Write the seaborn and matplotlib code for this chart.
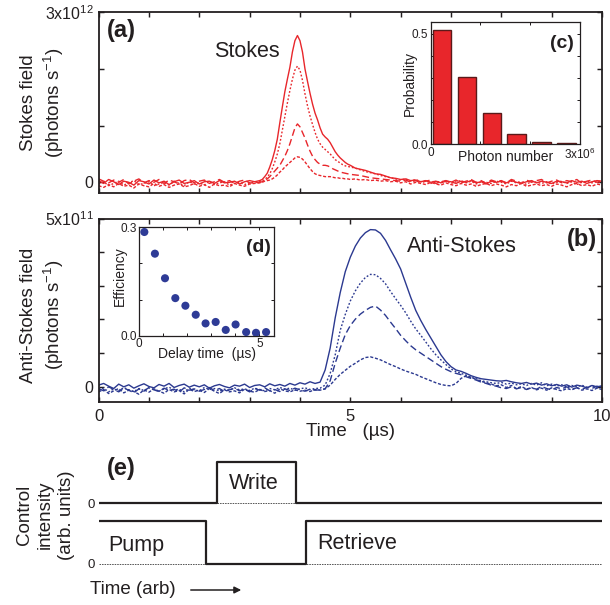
import numpy as np
import pandas as pd
import matplotlib
matplotlib.use("Agg")
import matplotlib.pyplot as plt
import seaborn as sns

# ------------------------------------------------------------------ data
# (a) Stokes field traces, units of 1e12 photons/s
t_stokes = np.round(np.concatenate([np.linspace(0.0, 3.1, 32),
                                    np.linspace(3.2, 4.95, 36),
                                    np.linspace(5.0, 10.0, 51)]), 2)
stokes_1 = ([0.03, -0.02, 0.05, 0.01, -0.04, 0.02, 0.00, -0.05, 0.03, 0.01, -0.03, 0.04, -0.01, 0.02, -0.04, 0.01,
             0.04, -0.02, 0.00, 0.03, -0.03, 0.01, 0.02, -0.02, 0.03, -0.01, 0.00, 0.02, -0.03, 0.01, 0.03, 0.01]
            + [0.03, 0.05, 0.10, 0.16, 0.27, 0.40, 0.56, 0.76, 1.05, 1.33, 1.60, 1.82, 2.03, 2.30, 2.50, 2.59,
               2.50, 2.30, 2.00, 1.78, 1.57, 1.38, 1.22, 1.10, 0.96, 0.85, 0.80, 0.76, 0.70, 0.62, 0.54, 0.48,
               0.43, 0.39, 0.35, 0.32]
            + [0.30, 0.25, 0.23, 0.21, 0.18, 0.15, 0.14, 0.11, 0.08, 0.07, 0.05, 0.06, 0.03, 0.04, 0.01, 0.03,
               0.00, 0.02, -0.01, 0.02, 0.01, -0.02, 0.02, 0.00, 0.03, -0.01, 0.01, -0.03, 0.02, 0.00, 0.02,
               -0.01, 0.03, 0.00, -0.02, 0.01, 0.03, -0.01, 0.02, 0.00, -0.02, 0.02, 0.01, -0.01, 0.03, 0.00,
               0.02, -0.02, 0.01, 0.03, 0.02])
stokes_2 = ([-0.03, 0.01, -0.06, -0.02, 0.02, -0.05, -0.01, 0.03, -0.04, -0.02, 0.01, -0.06, -0.03, 0.00, -0.05,
             0.02, -0.02, -0.06, 0.01, -0.03, -0.01, -0.05, 0.02, -0.04, -0.01, 0.01, -0.05, -0.02, 0.00, -0.04,
             -0.01, 0.00]
            + [0.01, 0.02, 0.05, 0.09, 0.15, 0.24, 0.36, 0.50, 0.68, 0.92, 1.16, 1.40, 1.62, 1.82, 1.98, 2.05,
               1.98, 1.80, 1.56, 1.35, 1.17, 1.02, 0.88, 0.76, 0.68, 0.62, 0.58, 0.54, 0.50, 0.45, 0.40, 0.37,
               0.34, 0.31, 0.29, 0.28]
            + [0.27, 0.25, 0.22, 0.19, 0.17, 0.15, 0.12, 0.10, 0.08, 0.06, 0.04, 0.06, 0.02, 0.05, 0.01, 0.03,
               -0.02, 0.02, 0.00, 0.03, -0.02, 0.01, 0.03, -0.01, 0.02, -0.03, 0.01, 0.00, -0.02, 0.02, 0.00,
               -0.03, 0.02, -0.01, 0.01, -0.04, 0.02, 0.00, -0.02, 0.01, -0.03, 0.00, 0.02, -0.02, 0.01, -0.04,
               0.00, 0.02, -0.01, 0.01, 0.00])
stokes_3 = ([0.06, 0.02, -0.01, 0.04, 0.00, 0.05, -0.03, 0.02, 0.06, -0.01, 0.03, 0.00, 0.05, -0.02, 0.04, 0.01,
             -0.03, 0.03, 0.05, -0.01, 0.02, 0.04, -0.02, 0.01, 0.05, 0.00, 0.03, -0.02, 0.02, 0.04, -0.01, -0.01]
            + [0.00, 0.01, 0.03, 0.06, 0.10, 0.15, 0.20, 0.25, 0.30, 0.38, 0.46, 0.56, 0.68, 0.82, 0.96, 1.03,
               0.98, 0.88, 0.78, 0.66, 0.55, 0.46, 0.40, 0.35, 0.32, 0.30, 0.30, 0.29, 0.27, 0.24, 0.22, 0.20,
               0.18, 0.17, 0.16, 0.15]
            + [0.14, 0.13, 0.12, 0.10, 0.08, 0.07, 0.06, 0.05, 0.04, 0.03, 0.02, 0.04, 0.00, 0.03, -0.01, 0.02,
               0.04, -0.02, 0.01, 0.03, 0.00, 0.04, -0.01, 0.02, 0.05, 0.00, 0.03, -0.02, 0.04, 0.01, 0.03,
               -0.01, 0.05, 0.02, -0.02, 0.04, 0.00, 0.03, 0.05, -0.01, 0.02, 0.04, -0.01, 0.03, 0.01, 0.05,
               -0.02, 0.02, 0.04, 0.00, 0.03])
stokes_4 = ([-0.06, -0.09, -0.04, -0.08, -0.02, -0.07, -0.05, -0.10, -0.03, -0.06, -0.08, -0.02, -0.07, -0.04,
             -0.09, -0.05, -0.03, -0.08, -0.06, -0.02, -0.07, -0.04, -0.09, -0.03, -0.06, -0.05, -0.08, -0.02,
             -0.05, -0.07, -0.03, -0.02]
            + [-0.01, 0.00, 0.02, 0.03, 0.04, 0.06, 0.09, 0.13, 0.18, 0.22, 0.27, 0.31, 0.35, 0.39, 0.43, 0.45,
               0.44, 0.41, 0.36, 0.30, 0.24, 0.19, 0.15, 0.13, 0.12, 0.11, 0.10, 0.10, 0.10, 0.09, 0.08, 0.08,
               0.07, 0.07, 0.06, 0.06]
            + [0.05, 0.06, 0.04, 0.05, 0.03, 0.04, 0.02, 0.03, 0.01, 0.02, -0.01, 0.01, -0.03, 0.00, -0.02, -0.04,
               0.00, -0.03, -0.05, -0.01, -0.04, -0.06, -0.02, -0.05, -0.03, -0.07, -0.04, -0.02, -0.06, -0.03,
               -0.05, -0.08, -0.04, -0.06, -0.02, -0.07, -0.05, -0.03, -0.06, -0.04, -0.07, -0.03, -0.05, -0.08,
               -0.04, -0.02, -0.06, -0.04, -0.07, -0.03, -0.05])

# (b) anti-Stokes field traces, units of 1e11 photons/s
t_anti = np.round(np.linspace(0.0, 10.0, 101), 2)
anti_1 = [0.05, 0.10, 0.02, -0.05, 0.08, 0.00, 0.06, -0.04, 0.03, 0.09, 0.01, -0.03, 0.07, 0.02, 0.10, -0.02,
          0.04, 0.08, -0.01, 0.05, 0.00, 0.06, -0.04, 0.03, 0.07, 0.01, -0.03, 0.05, 0.02, 0.08, -0.02, 0.04,
          0.06, 0.00, 0.09, 0.03, 0.07, 0.02, 0.10, 0.05, 0.12, 0.08, 0.15, 0.10,
          0.14, 0.50, 1.15, 2.05, 2.80, 3.42, 3.85, 4.18, 4.42, 4.58,
          4.67, 4.66, 4.56, 4.35, 4.07, 3.80, 3.50, 3.08, 2.66, 2.27,
          1.97, 1.70, 1.45, 1.20, 0.95, 0.75, 0.60, 0.50, 0.46, 0.40,
          0.33, 0.28, 0.24, 0.22, 0.20, 0.18, 0.17, 0.19, 0.15, 0.12,
          0.10, 0.13, 0.08, 0.11, 0.05, 0.09, 0.03, 0.07, 0.02, 0.06,
          -0.01, 0.05, 0.02, -0.03, 0.04, 0.00, 0.03]
anti_2 = [-0.10, -0.04, -0.15, -0.06, -0.12, -0.02, -0.09, -0.14, -0.05, -0.11, -0.03, -0.08, -0.13, -0.06,
          -0.01, -0.10, -0.07, -0.15, -0.04, -0.09, -0.12, -0.02, -0.08, -0.05, -0.13, -0.07, -0.10, -0.03,
          -0.09, -0.06, -0.11, -0.04, -0.08, -0.12, -0.05, -0.09, -0.02, -0.07, -0.04, -0.10, -0.06, -0.03,
          -0.08, -0.05,
          -0.04, 0.05, 0.40, 0.95, 1.68, 2.15, 2.55, 2.85, 3.08, 3.25,
          3.34, 3.33, 3.22, 3.06, 2.83, 2.62, 2.42, 2.20, 1.95, 1.72,
          1.53, 1.33, 1.13, 0.95, 0.80, 0.66, 0.53, 0.45, 0.40, 0.35,
          0.28, 0.24, 0.18, 0.15, 0.12, 0.10, 0.13, 0.08, 0.11, 0.06,
          0.09, 0.04, 0.10, 0.05, 0.12, 0.03, 0.08, 0.02, 0.06, -0.01,
          0.04, 0.00, 0.05, -0.02, 0.03, -0.03, 0.02]
anti_3 = [-0.05, -0.12, 0.00, -0.08, -0.15, -0.04, -0.10, -0.18, -0.06, -0.13, -0.02, -0.09, -0.14, -0.04,
          -0.11, -0.07, -0.16, -0.03, -0.10, -0.06, -0.13, -0.08, -0.02, -0.11, -0.05, -0.14, -0.09, -0.04,
          -0.12, -0.07, -0.15, -0.05, -0.10, -0.03, -0.12, -0.08, -0.14, -0.06, -0.11, -0.04, -0.09, -0.13,
          -0.07, -0.10,
          -0.09, -0.06, 0.18, 0.70, 1.15, 1.55, 1.82, 2.01, 2.16, 2.27,
          2.36, 2.40, 2.28, 2.12, 1.92, 1.73, 1.53, 1.37, 1.22, 1.10,
          1.00, 0.90, 0.80, 0.70, 0.60, 0.52, 0.45, 0.40, 0.36, 0.30,
          0.25, 0.20, 0.14, 0.10, 0.05, 0.02, -0.03, -0.05, 0.00, -0.06,
          -0.02, -0.08, -0.03, -0.07, 0.01, -0.05, -0.09, -0.02, -0.06, 0.00,
          -0.07, -0.03, -0.08, -0.01, -0.05, 0.02, -0.04]
anti_4 = [-0.15, -0.08, -0.20, -0.12, -0.05, -0.18, -0.10, -0.14, -0.22, -0.09, -0.16, -0.06, -0.13, -0.19,
          -0.08, -0.15, -0.11, -0.21, -0.07, -0.14, -0.10, -0.17, -0.05, -0.13, -0.20, -0.09, -0.15, -0.12,
          -0.18, -0.07, -0.13, -0.16, -0.08, -0.14, -0.11, -0.19, -0.06, -0.12, -0.15, -0.09, -0.13, -0.10,
          -0.14, -0.08,
          -0.10, -0.06, 0.05, 0.22, 0.37, 0.49, 0.61, 0.70, 0.80, 0.87,
          0.89, 0.85, 0.80, 0.73, 0.66, 0.60, 0.53, 0.47, 0.42, 0.37,
          0.30, 0.24, 0.18, 0.12, 0.07, 0.04, 0.03, 0.10, 0.25, 0.33,
          0.28, 0.22, 0.16, 0.12, 0.08, 0.03, 0.06, -0.02, 0.04, -0.05,
          0.01, -0.07, -0.02, -0.09, -0.04, -0.10, -0.03, -0.08, -0.12, -0.05,
          -0.09, -0.02, -0.10, -0.06, -0.11, -0.04, -0.08]

# (c) photon-number histogram
photon_bins = [0.23e6, 0.73e6, 1.23e6, 1.73e6, 2.23e6, 2.73e6]
probability = [0.518, 0.304, 0.140, 0.047, 0.010, 0.006]

# (d) retrieval efficiency vs delay
delay_us = [0.21, 0.65, 1.07, 1.50, 1.92, 2.35, 2.76, 3.18, 3.60, 4.01, 4.45, 4.86, 5.28]
efficiency = [0.287, 0.227, 0.159, 0.104, 0.083, 0.058, 0.034, 0.038, 0.016, 0.031, 0.010, 0.008, 0.010]

# (e) control pulse sequence (arbitrary time / intensity)
write_t = [0.0, 2.35, 2.35, 3.93, 3.93, 10.0]
write_on = [0, 0, 1, 1, 0, 0]
pump_t = [0.0, 2.13, 2.13, 4.12, 4.12, 10.0]
pump_on = [1, 1, 0, 0, 1, 1]

# ------------------------------------------------------------------ style
sns.set_theme(style="ticks")
plt.rcParams["font.family"] = ["Liberation Sans", "DejaVu Sans"]
plt.rcParams["mathtext.fontset"] = "custom"
plt.rcParams["mathtext.rm"] = "Liberation Sans"
plt.rcParams["mathtext.it"] = "Liberation Sans:italic"
plt.rcParams["mathtext.bf"] = "Liberation Sans:bold"
plt.rcParams["mathtext.default"] = "regular"
TXT = "#231f20"
plt.rcParams["text.color"] = TXT
plt.rcParams["axes.labelcolor"] = TXT
plt.rcParams["xtick.color"] = TXT
plt.rcParams["ytick.color"] = TXT

RED = "#e8262b"
BLUE = "#2b3990"
styles = ["-", (0, (1.3, 1.4)), (0, (5.0, 2.5)), (0, (2.2, 1.3))]

W, H = 610, 605
fig = plt.figure(figsize=(W / 100, H / 100), dpi=100)


def frac(l, t, r, b):
    return [l / W, 1 - b / H, (r - l) / W, (b - t) / H]


ax_a = fig.add_axes(frac(98.6, 12.3, 602, 193.3))
ax_b = fig.add_axes(frac(98.6, 218.5, 602, 401.8))
ax_c = fig.add_axes(frac(430.5, 22.3, 580, 144.3))
ax_d = fig.add_axes(frac(139.3, 227.3, 274, 335.7))
ax_e = fig.add_axes(frac(98.6, 455, 602, 570))


def frame(ax, lw=1.3, tlen=3.5):
    for s in ax.spines.values():
        s.set_visible(True)
        s.set_linewidth(lw)
        s.set_color(TXT)
    ax.tick_params(direction="in", top=True, right=True, length=tlen, width=lw * 0.8)
    ax.grid(False)


# (a) Stokes
for vals, ls in zip([stokes_1, stokes_2, stokes_3, stokes_4], styles):
    sns.lineplot(x=t_stokes, y=np.array(vals) * 1e12, ax=ax_a, color=RED, lw=1.0,
                 linestyle=ls, errorbar=None)
ax_a.set_xlim(0, 10)
ax_a.set_ylim(-0.194e12, 3.0e12)
ax_a.set_xticks(np.arange(0, 11, 1))
ax_a.set_xticklabels([])
ax_a.set_yticks([0, 1e12, 2e12, 3e12])
ax_a.set_yticklabels(["0", "", "", r"3x10$^{12}$"], fontsize=11.5)
ax_a.set_xlabel("")
ax_a.set_ylabel("Stokes field\n" + r"(photons s$^{-1}$)", fontsize=13.5, linespacing=1.3)
ax_a.yaxis.set_label_coords(-0.064, 0.5)
frame(ax_a)
ax_a.text(0.0445, 0.90, "(a)", transform=ax_a.transAxes, fontsize=17, fontweight="bold",
          ha="center", va="center")
ax_a.text(0.294, 0.785, "Stokes", transform=ax_a.transAxes, fontsize=15.5, ha="center", va="center")

# (b) anti-Stokes
for vals, ls in zip([anti_1, anti_2, anti_3, anti_4], styles):
    sns.lineplot(x=t_anti, y=np.array(vals) * 1e11, ax=ax_b, color=BLUE, lw=1.0,
                 linestyle=ls, errorbar=None)
ax_b.set_xlim(0, 10)
ax_b.set_ylim(-0.445e11, 5.0e11)
ax_b.set_xticks(np.arange(0, 11, 1))
ax_b.set_xticklabels(["0", "", "", "", "", "5", "", "", "", "", "10"], fontsize=12)
ax_b.set_yticks(np.arange(0, 6, 1) * 1e11)
ax_b.set_yticklabels(["0", "", "", "", "", r"5x10$^{11}$"], fontsize=11.5)
ax_b.set_xlabel("Time   (µs)", fontsize=13.5)
ax_b.xaxis.set_label_coords(0.5, -0.115)
ax_b.set_ylabel("Anti-Stokes field\n" + r"(photons s$^{-1}$)", fontsize=13.5, linespacing=1.3)
ax_b.yaxis.set_label_coords(-0.064, 0.474)
frame(ax_b)
ax_b.tick_params(axis="x", pad=5)
ax_b.text(0.96, 0.888, "(b)", transform=ax_b.transAxes, fontsize=17, fontweight="bold",
          ha="center", va="center")
ax_b.text(0.722, 0.845, "Anti-Stokes", transform=ax_b.transAxes, fontsize=15.5, ha="center", va="center")

# (c) histogram inset
ax_c.set_facecolor("white")
sns.barplot(x=photon_bins, y=probability, native_scale=True, ax=ax_c, color=RED, saturation=1,
            edgecolor="#5a1a1a", linewidth=1.0, width=0.74, errorbar=None)
ax_c.set_xlim(0, 3.0e6)
ax_c.set_ylim(0, 0.553)
ax_c.set_xticks([0, 1e6, 2e6, 3e6])
ax_c.set_xticklabels(["0", "", "", r"3x10$^{6}$"], fontsize=8.5)
ax_c.set_yticks(np.arange(0, 0.51, 0.1))
ax_c.set_yticklabels(["0.0", "", "", "", "", "0.5"], fontsize=8.5)
ax_c.set_xlabel("Photon number", fontsize=10)
ax_c.xaxis.set_label_coords(0.5, -0.045)
ax_c.set_ylabel("Probability", fontsize=10)
ax_c.yaxis.set_label_coords(-0.092, 0.5)
frame(ax_c, lw=0.9, tlen=2.5)
ax_c.tick_params(pad=2)
ax_c.text(0.876, 0.826, "(c)", transform=ax_c.transAxes, fontsize=14, fontweight="bold",
          ha="center", va="center")

# (d) efficiency inset
ax_d.set_facecolor("white")
sns.scatterplot(x=delay_us, y=efficiency, ax=ax_d, color="#2e3b96", s=34, edgecolor="none", zorder=3)
ax_d.set_xlim(0, 5.61)
ax_d.set_ylim(0, 0.3)
ax_d.set_xticks(np.arange(0, 6, 1))
ax_d.set_xticklabels(["0", "", "", "", "", "5"], fontsize=8.5)
ax_d.set_yticks([0, 0.1, 0.2, 0.3])
ax_d.set_yticklabels(["0.0", "", "", "0.3"], fontsize=8.5)
ax_d.set_xlabel("Delay time  (µs)", fontsize=10)
ax_d.xaxis.set_label_coords(0.5, -0.1)
ax_d.set_ylabel("Efficiency", fontsize=10)
ax_d.yaxis.set_label_coords(-0.094, 0.55)
frame(ax_d, lw=0.9, tlen=2.5)
ax_d.tick_params(pad=2)
ax_d.text(0.881, 0.814, "(d)", transform=ax_d.transAxes, fontsize=14, fontweight="bold",
          ha="center", va="center")

# (e) control sequence
upper_base, upper_h = 1.41, 0.97
ax_e.plot([write_t[1], write_t[3]], [upper_base, upper_base], color="#555555", lw=0.7,
          linestyle=(0, (1.6, 1.0)))
ax_e.plot([0, 10], [0, 0], color="#555555", lw=0.7, linestyle=(0, (1.6, 1.0)))
sns.lineplot(x=write_t, y=upper_base + upper_h * np.array(write_on), ax=ax_e, color=TXT, lw=1.6,
             sort=False, estimator=None)
sns.lineplot(x=pump_t, y=np.array(pump_on, dtype=float), ax=ax_e, color=TXT, lw=1.6,
             sort=False, estimator=None)
ax_e.set_xlim(0, 10)
ax_e.set_ylim(-0.14, 2.535)
for s in ax_e.spines.values():
    s.set_visible(False)
ax_e.set_xticks([])
ax_e.set_yticks([0, upper_base])
ax_e.set_yticklabels(["0", "0"], fontsize=9.5)
ax_e.tick_params(axis="y", length=0, pad=3)
ax_e.set_xlabel("")
ax_e.set_ylabel("")
ax_e.text(0.445, 2.21, "(e)", fontsize=17, fontweight="bold", ha="center", va="center")
ax_e.text(3.09, 1.88, "Write", fontsize=15.5, ha="center", va="center")
ax_e.text(0.74, 0.42, "Pump", fontsize=15.5, ha="center", va="center")
ax_e.text(5.14, 0.47, "Retrieve", fontsize=15.5, ha="center", va="center")

fig.text(45.5 / W, 1 - 515 / H, "Control\nintensity\n(arb. units)", rotation=90, fontsize=13.5,
         ha="center", va="center", linespacing=1.3)
fig.text(133 / W, 1 - 589 / H, "Time (arb)", fontsize=13.5, ha="center", va="center")
fig.add_artist(matplotlib.patches.FancyArrowPatch((188 / W, 1 - 590 / H), (244 / W, 1 - 590 / H),
                                                  transform=fig.transFigure, arrowstyle="-|>",
                                                  mutation_scale=10, lw=1.1, color=TXT))

fig.savefig("out.png", dpi=100)
